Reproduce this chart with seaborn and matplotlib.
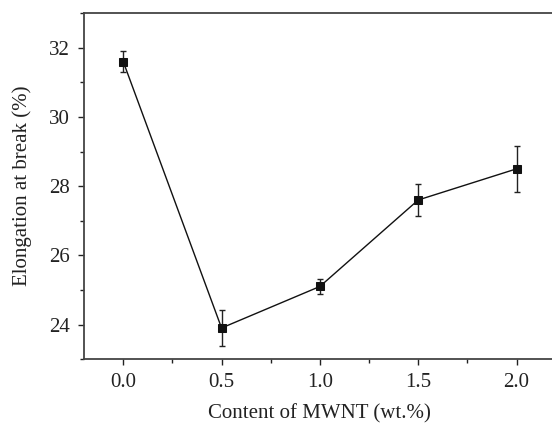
import matplotlib
matplotlib.use("Agg")
import matplotlib.pyplot as plt
import pandas as pd
import seaborn as sns
from matplotlib.ticker import MultipleLocator

content = [0.0, 0.5, 1.0, 1.5, 2.0]
elongation = [31.6, 23.9, 25.1, 27.6, 28.5]
err = [0.31, 0.51, 0.22, 0.45, 0.67]

df = pd.DataFrame({"content": content, "elongation": elongation, "err": err})

sns.set_style("ticks")
plt.rcParams["font.family"] = ["Liberation Serif", "DejaVu Serif"]

fig = plt.figure(figsize=(5.52, 4.25), dpi=100)
ax = fig.add_axes([0.152, 0.155, 0.855, 0.814])

ax.errorbar(df["content"], df["elongation"], yerr=df["err"], fmt="none",
            ecolor="#222222", elinewidth=1.0, capsize=2.5, capthick=1.0, zorder=2)
sns.lineplot(data=df, x="content", y="elongation", ax=ax, color="#111111",
             linewidth=1.0, marker="s", markersize=5.5, markeredgecolor="#111111",
             markerfacecolor="#111111", zorder=3)

ax.set_xlim(-0.2, 2.2)
ax.set_ylim(23, 33)
ax.set_xticks([0.0, 0.5, 1.0, 1.5, 2.0])
ax.set_xticklabels(["0.0", "0.5", "1.0", "1.5", "2.0"])
ax.set_yticks([24, 26, 28, 30, 32])
ax.xaxis.set_minor_locator(MultipleLocator(0.25))
ax.yaxis.set_minor_locator(MultipleLocator(1))

for s in ax.spines.values():
    s.set_color("#444444")
    s.set_linewidth(1.3)
ax.tick_params(which="major", direction="out", length=4, width=1.0,
               colors="#222222", labelsize=15, labelcolor="#222222", pad=6)
ax.tick_params(which="minor", direction="out", length=3, width=1.0, colors="#222222")

ax.set_xlabel("Content of MWNT (wt.%)", fontsize=15, color="#222222", labelpad=9)
ax.set_ylabel("Elongation at break (%)", fontsize=15, color="#222222", labelpad=12)

fig.savefig("out.png", dpi=100)
